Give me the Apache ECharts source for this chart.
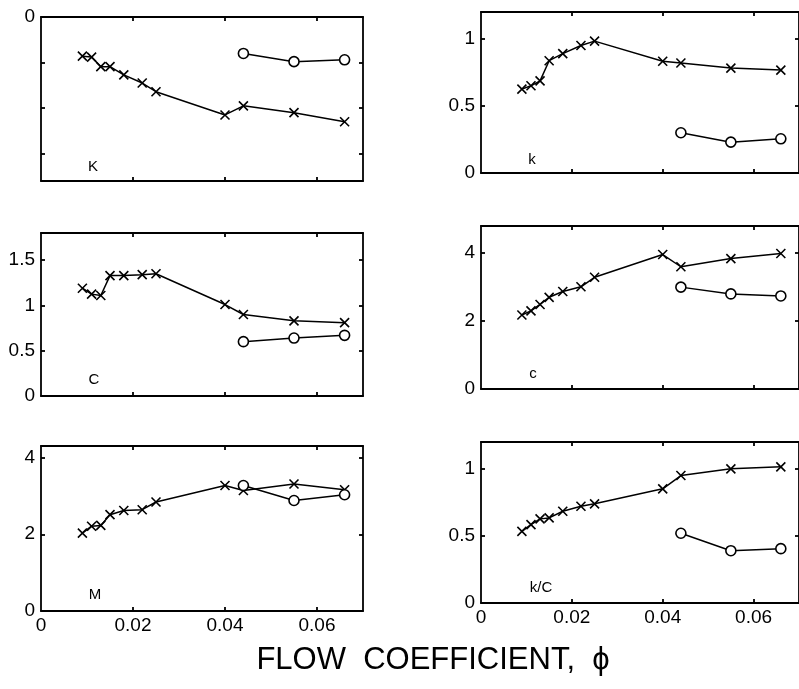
<!DOCTYPE html>
<html>
<head>
<meta charset="utf-8">
<script src="https://cdn.jsdelivr.net/npm/echarts@6/dist/echarts.min.js"></script>
<style>
html,body{margin:0;padding:0;background:#fff;}
#chart{width:799px;height:689px;}
</style>
</head>
<body>
<div id="chart"></div>
<script>
// ---- data ----
const phiX = [0.009, 0.011, 0.013, 0.015, 0.018, 0.022, 0.025, 0.040, 0.044, 0.055, 0.066];
const phiO = [0.044, 0.055, 0.066];

const K_x  = [-0.86, -0.88, -1.09, -1.09, -1.27, -1.45, -1.64, -2.15, -1.95, -2.10, -2.30];
const K_o  = [-0.80, -0.98, -0.94];
const k_x  = [0.625, 0.65, 0.687, 0.837, 0.89, 0.95, 0.983, 0.833, 0.82, 0.782, 0.767];
const k_o  = [0.30, 0.23, 0.255];
const C_x  = [1.19, 1.125, 1.11, 1.33, 1.33, 1.34, 1.35, 1.01, 0.90, 0.83, 0.81];
const C_o  = [0.60, 0.64, 0.67];
const c_x  = [2.18, 2.30, 2.49, 2.70, 2.87, 3.01, 3.29, 3.96, 3.60, 3.84, 3.99];
const c_o  = [3.00, 2.80, 2.74];
const M_x  = [2.03, 2.21, 2.23, 2.51, 2.62, 2.64, 2.84, 3.27, 3.14, 3.31, 3.16];
const M_o  = [3.27, 2.88, 3.03];
const kC_x = [0.534, 0.584, 0.627, 0.634, 0.684, 0.721, 0.739, 0.851, 0.95, 1.00, 1.015];
const kC_o = [0.52, 0.39, 0.405];

const xTicks = [0.02, 0.04, 0.06];
const xLabels = [0, 0.02, 0.04, 0.06];

const panelNames = ['K', 'k', 'C', 'c', 'M', 'k/C'];
const yRanges = [[-3.6, 0], [0, 1.2], [0, 1.8], [0, 4.8], [0, 4.3], [0, 1.2]];
const yTicks = [[-3, -2, -1, 0], [0.5, 1], [0.5, 1, 1.5], [2, 4], [2, 4], [0.5, 1]];
const yLabels = [[0], [0, 0.5, 1], [0, 0.5, 1, 1.5], [0, 2, 4], [0, 2, 4], [0, 0.5, 1]];
const crossData = [K_x, k_x, C_x, c_x, M_x, kC_x];
const circleData = [K_o, k_o, C_o, c_o, M_o, kC_o];

// ---- layout ----
const grids = [
  {left: 41,  top: 17,  width: 322, height: 164},
  {left: 481, top: 12,  width: 322, height: 161},
  {left: 41,  top: 233, width: 322, height: 163},
  {left: 481, top: 226, width: 322, height: 163},
  {left: 41,  top: 446, width: 322, height: 165},
  {left: 481, top: 442, width: 322, height: 161}
];
const labelPos = [[93, 167], [532, 160], [94, 380], [533, 374], [95, 595], [541, 588]];

const FONT = 'Liberation Sans, Arial, Helvetica, sans-serif';
const INK = '#000';
const lineStyle = {color: INK, width: 1.8};

const xAxes = [], yAxes = [], series = [], graphics = [];
grids.forEach((g, i) => {
  const bottomRow = i >= 4;
  xAxes.push({
    type: 'value', gridIndex: i, position: 'bottom', min: 0, max: 0.07,
    axisLine: {show: true, onZero: false, lineStyle},
    axisTick: {show: true, inside: true, length: 4, customValues: xTicks, lineStyle},
    axisLabel: {show: bottomRow, customValues: xLabels, color: INK, fontSize: 19, fontFamily: FONT, margin: 5,
      formatter: v => String(v)},
    splitLine: {show: false}
  });
  xAxes.push({
    type: 'value', gridIndex: i, position: 'top', min: 0, max: 0.07,
    axisLine: {show: true, onZero: false, lineStyle},
    axisTick: {show: true, inside: true, length: 4, customValues: xTicks, lineStyle},
    axisLabel: {show: false},
    splitLine: {show: false}
  });
  yAxes.push({
    type: 'value', gridIndex: i, position: 'left', min: yRanges[i][0], max: yRanges[i][1],
    axisLine: {show: true, onZero: false, lineStyle},
    axisTick: {show: true, inside: true, length: 4, customValues: yTicks[i], lineStyle},
    axisLabel: {show: true, customValues: yLabels[i], color: INK, fontSize: 19, fontFamily: FONT, margin: 6,
      formatter: v => String(v)},
    splitLine: {show: false}
  });
  yAxes.push({
    type: 'value', gridIndex: i, position: 'right', min: yRanges[i][0], max: yRanges[i][1],
    axisLine: {show: true, onZero: false, lineStyle},
    axisTick: {show: true, inside: true, length: 4, customValues: yTicks[i], lineStyle},
    axisLabel: {show: false},
    splitLine: {show: false}
  });
  series.push({
    type: 'line', xAxisIndex: 2 * i, yAxisIndex: 2 * i,
    data: phiX.map((x, j) => [x, crossData[i][j]]),
    symbol: 'path://M0 0L10 10M10 0L0 10', symbolSize: 9, showSymbol: true,
    itemStyle: {color: 'transparent', borderColor: INK, borderWidth: 1.6},
    lineStyle: {color: INK, width: 1.5},
    animation: false, silent: true, z: 3
  });
  series.push({
    type: 'line', xAxisIndex: 2 * i, yAxisIndex: 2 * i,
    data: phiO.map((x, j) => [x, circleData[i][j]]),
    symbol: 'circle', symbolSize: 10, showSymbol: true,
    itemStyle: {color: '#fff', borderColor: INK, borderWidth: 1.6},
    lineStyle: {color: INK, width: 1.5},
    animation: false, silent: true, z: 4
  });
  graphics.push({
    type: 'text', x: labelPos[i][0], y: labelPos[i][1],
    style: {text: panelNames[i], fill: INK, font: '15px ' + FONT, textAlign: 'center', textVerticalAlign: 'middle'}
  });
});

graphics.push({
  type: 'text', x: 433, y: 660,
  style: {text: 'FLOW  COEFFICIENT,  \u03D5', fill: INK, font: '31px ' + FONT, textAlign: 'center', textVerticalAlign: 'middle'}
});

const chart = echarts.init(document.getElementById('chart'), null, {renderer: 'canvas'});
chart.setOption({
  backgroundColor: '#fff',
  animation: false,
  grid: grids.map(g => Object.assign({containLabel: false}, g)),
  xAxis: xAxes,
  yAxis: yAxes,
  series: series,
  graphic: graphics
});
</script>
</body>
</html>
